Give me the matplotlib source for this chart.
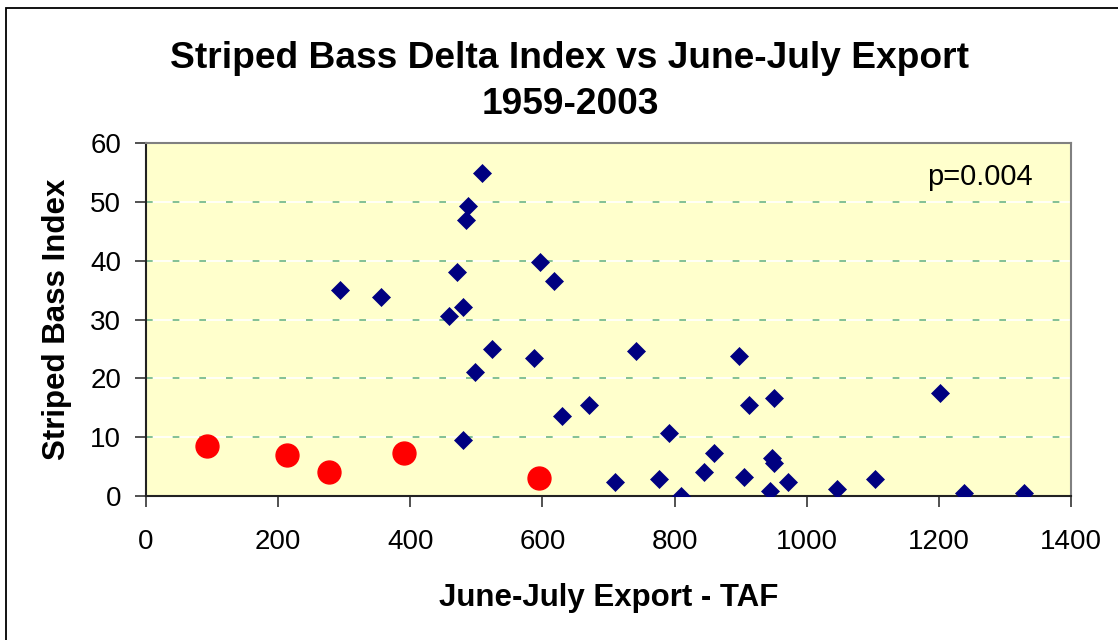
import matplotlib
matplotlib.use('Agg')
import matplotlib.pyplot as plt
from matplotlib.patches import Rectangle

plt.rcParams['font.family'] = ['Liberation Sans', 'DejaVu Sans']

# June-July export (TAF) vs striped bass index
export_blue = [509, 488, 484, 597, 618, 470, 293, 356, 480, 459, 523, 587, 498,
               671, 629, 480, 710, 742, 898, 912, 951, 1202, 792, 859, 947, 951,
               845, 777, 809, 905, 944, 972, 1046, 1103, 1238, 1329]
index_blue = [54.9, 49.3, 46.9, 39.8, 36.6, 38.1, 35.0, 33.8, 32.2, 30.6, 25.0, 23.4, 21.1,
              15.5, 13.5, 9.5, 2.4, 24.6, 23.8, 15.5, 16.7, 17.5, 10.7, 7.2, 6.4, 5.5,
              4.0, 2.8, 0.0, 3.2, 0.8, 2.4, 1.2, 2.8, 0.4, 0.4]

# highlighted years (red)
export_red = [93, 213, 277, 390, 595]
index_red = [8.5, 6.9, 4.1, 7.3, 3.0]

x_ticks = [0, 200, 400, 600, 800, 1000, 1200, 1400]
y_ticks = [0, 10, 20, 30, 40, 50, 60]

fig = plt.figure(figsize=(11.18, 6.40), dpi=100)
ax = fig.add_axes([146/1118, 1 - 495.7/640, (1071 - 146)/1118, (495.7 - 143.3)/640])
ax.set_facecolor('#FFFFCC')

# grid: white line with green dashes
for yv in y_ticks[1:-1]:
    ax.axhline(yv, color='#6DB58C', lw=1.2, ls=(0, (4, 12)), gapcolor='white', zorder=1)

ax.plot(export_blue, index_blue, 'D', color='#000080', ms=9, mec='#000080', mew=0.5, zorder=3)
ax.plot(export_red, index_red, 'o', color='#FF0000', ms=16.5, mec='#FF0000', zorder=3)

ax.set_xlim(0, 1400)
ax.set_ylim(0, 60)
ax.set_xticks(x_ticks)
ax.set_yticks(y_ticks)
ax.tick_params(axis='both', direction='out', length=8, width=1.2, color='#333333',
               labelsize=20, pad=10)
ax.tick_params(axis='x', pad=16)

for s in ['left', 'bottom']:
    ax.spines[s].set_color('#222222')
    ax.spines[s].set_linewidth(1.5)
for s in ['top', 'right']:
    ax.spines[s].set_color('#808080')
    ax.spines[s].set_linewidth(1.5)

ax.set_xlabel('June-July Export - TAF', fontsize=22.5, fontweight='bold', labelpad=20)
ax.set_ylabel('Striped Bass Index', fontsize=22.5, fontweight='bold', labelpad=13)
ax.text(0.959, 0.904, 'p=0.004', transform=ax.transAxes, ha='right', va='center', fontsize=21)

fig.text(570/1118, 1 - 58/640, 'Striped Bass Delta Index vs June-July Export',
         ha='center', va='center', fontsize=26.7, fontweight='bold')
fig.text(570/1118, 1 - 104/640, '1959-2003', ha='center', va='center',
         fontsize=26.7, fontweight='bold')

# outer chart frame
fig.patches.append(Rectangle((5.5/1118, -0.05), 1.2, 1 - 7.5/640 + 0.05,
                             transform=fig.transFigure, fill=False,
                             ec='black', lw=1.3, clip_on=False))

fig.savefig('out.png', dpi=100)
